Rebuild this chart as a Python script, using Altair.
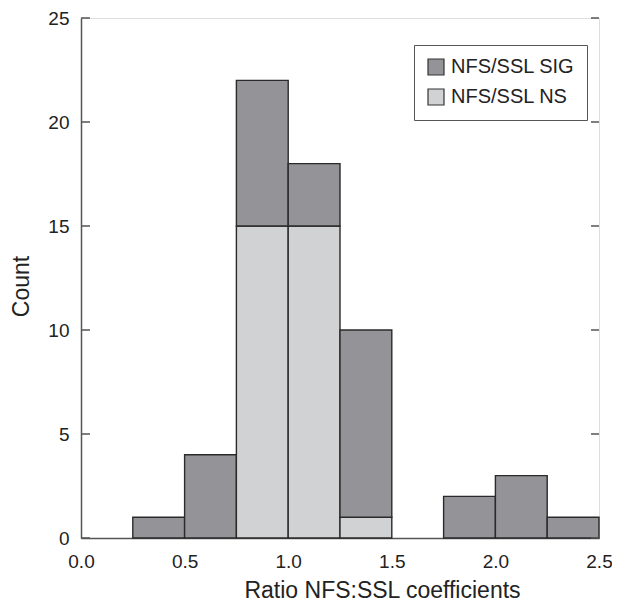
import altair as alt
import pandas as pd

# ---- data ----
bin_starts = [0.25, 0.5, 0.75, 1.0, 1.25, 1.75, 2.0, 2.25]
bin_width = 0.25
sig_counts = [1, 4, 7, 3, 9, 2, 3, 1]
ns_counts = [0, 0, 15, 15, 1, 0, 0, 0]
series_names = ["NFS/SSL SIG", "NFS/SSL NS"]
series_colors = ["#949398", "#d1d2d4"]
x_ticks = [0.0, 0.5, 1.0, 1.5, 2.0, 2.5]
y_ticks = [0, 5, 10, 15, 20, 25]

# stacked table: NS at the bottom, SIG on top
rows = []
for s, sig, ns in zip(bin_starts, sig_counts, ns_counts):
    if ns > 0:
        rows.append({"start": s, "end": s + bin_width, "series": series_names[1],
                     "y0": 0, "y1": ns})
    if sig > 0:
        rows.append({"start": s, "end": s + bin_width, "series": series_names[0],
                     "y0": ns, "y1": ns + sig})
df = pd.DataFrame(rows)
tick_df = pd.DataFrame({"t": y_ticks})

W, H = 518, 520
FONT = "Liberation Sans"

xscale = alt.Scale(domain=[0, 2.5], nice=False, zero=True)
yscale = alt.Scale(domain=[0, 25], nice=False)

bars = alt.Chart(df).mark_rect(stroke="#2a2a2a", strokeWidth=1.4, opacity=1).encode(
    x=alt.X("start:Q", scale=xscale,
            axis=alt.Axis(values=x_ticks, format=".1f", ticks=False, tickSize=0,
                          grid=False, labelPadding=29, labelBaseline="alphabetic",
                          labelFontSize=19, labelColor="#222", labelFont=FONT,
                          domainColor="#555", domainWidth=1.5,
                          title="Ratio NFS:SSL coefficients", titleFont=FONT,
                          titleFontSize=23, titleFontWeight="normal", titleColor="#222",
                          titleX=301, titleY=59, titleAlign="center",
                          titleBaseline="alphabetic", labelFlush=False)),
    x2="end:Q",
    y=alt.Y("y0:Q", scale=yscale,
            axis=alt.Axis(values=y_ticks, ticks=False, tickSize=0, grid=False,
                          labelPadding=12, labelFontSize=19, labelColor="#222",
                          labelFont=FONT, domainColor="#555", domainWidth=1.5,
                          title="Count", titleFont=FONT, titleFontSize=23,
                          titleFontWeight="normal", titleColor="#222",
                          titleX=-60, titleY=268, titleAngle=270,
                          titleAlign="center", titleBaseline="middle",
                          labelFlush=False)),
    y2="y1:Q",
    color=alt.Color("series:N",
                    scale=alt.Scale(domain=series_names, range=series_colors),
                    legend=alt.Legend(title=None, orient="none", legendX=333, legendY=27,
                                      symbolType="square", symbolSize=256,
                                      symbolStrokeColor="#333", symbolStrokeWidth=1.2,
                                      labelFontSize=20, labelFont=FONT, labelColor="#222",
                                      labelOffset=5, rowPadding=8, padding=12,
                                      strokeColor="#555", fillColor="white",
                                      labelLimit=300)),
)

left_ticks = alt.Chart(tick_df).mark_rule(color="#555", strokeWidth=1.5).encode(
    y=alt.Y("t:Q", scale=yscale), x=alt.value(0), x2=alt.value(9)
)
right_ticks = alt.Chart(tick_df).mark_rule(color="#555", strokeWidth=1.5).encode(
    y=alt.Y("t:Q", scale=yscale), x=alt.value(W - 8), x2=alt.value(W)
)

chart = alt.layer(bars, left_ticks, right_ticks).properties(
    width=W, height=H,
    autosize=alt.AutoSizeParams(type="none"),
    padding={"left": 73, "top": 10, "right": 13, "bottom": 66},
).configure_view(stroke="#444", strokeWidth=1.5).configure(background="white")

chart.save("out.html", embed_options={"renderer": "svg", "actions": False})
